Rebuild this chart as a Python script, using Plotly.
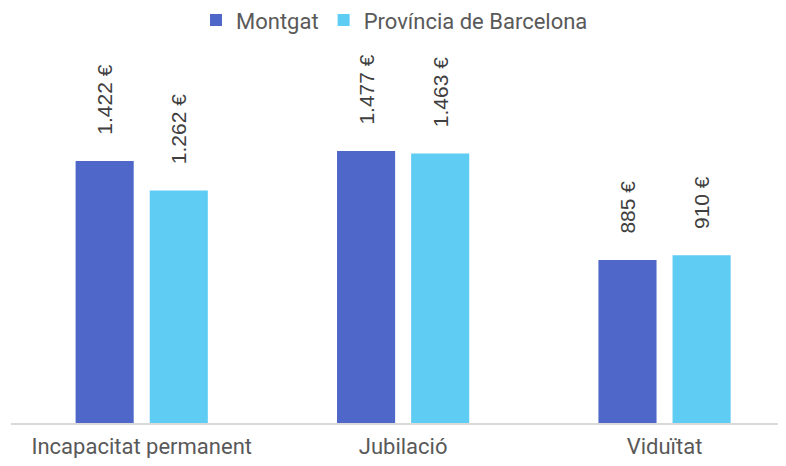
import plotly.graph_objects as go

# data
categories = ['Incapacitat permanent', 'Jubilació', 'Viduïtat']
montgat = [1422, 1477, 885]
barcelona = [1262, 1463, 910]
series_names = ['Montgat', 'Província de Barcelona']
colors = ['#4E67C8', '#5ECCF3']

NBSP = '\u00a0'


def fmt(v):
    # catalan thousands separator
    s = f'{v:,}'.replace(',', '.')
    return NBSP * 4 + s + ' €'


fig = go.Figure()

for name, values, color in zip(series_names, [montgat, barcelona], colors):
    fig.add_trace(go.Bar(
        x=categories,
        y=values,
        name=name,
        marker=dict(color=color, line=dict(width=0)),
        text=[fmt(v) for v in values],
        textposition='outside',
        textangle=-90,
        constraintext='none',
        cliponaxis=False,
        textfont=dict(family='Liberation Sans, Arial', size=21, color='#404040'),
    ))

# page body has an 8px margin, so the figure is sized to fit inside it
fig.update_layout(
    width=770,
    height=450,
    barmode='group',
    bargap=0.433,
    bargroupgap=0.216,
    plot_bgcolor='white',
    paper_bgcolor='white',
    margin=dict(l=3, r=0, t=37, b=35, autoexpand=False),
    font=dict(family='Roboto, Arial', color='#595959'),
    showlegend=True,
    legend=dict(
        orientation='h',
        x=0.5,
        xanchor='center',
        yref='container',
        y=0.973,
        yanchor='middle',
        font=dict(size=22, color='#595959'),
    ),
    xaxis=dict(
        range=[-0.5, 2.434],
        showline=True,
        linecolor='#D9D9D9',
        linewidth=2,
        ticks='',
        ticklabelstandoff=3,
        automargin=False,
        tickfont=dict(size=22, color='#595959'),
        showgrid=False,
    ),
    yaxis=dict(
        range=[0, 2052],
        visible=False,
        showgrid=False,
    ),
)

fig.write_html('out.html')
